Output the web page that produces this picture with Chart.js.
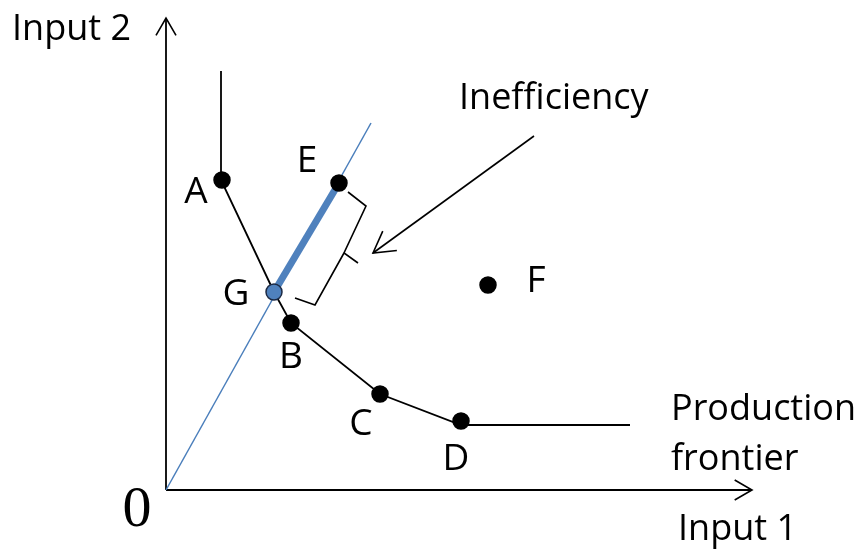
<!DOCTYPE html>
<html>
<head>
<meta charset="utf-8">
<script src="https://cdn.jsdelivr.net/npm/chart.js@4.4.1/dist/chart.umd.min.js"></script>
<style>
  body { margin: 0; background: #fff; }
  #wrap { width: 864px; height: 550px; }
</style>
</head>
<body>
<div id="wrap"><canvas id="frontierChart"></canvas></div>
<script>
// input quantities (Input 1, Input 2) of each firm
const firmNames = ['A', 'E', 'G', 'B', 'C', 'D', 'F'];
const input1 = [5.6, 17.3, 10.8, 12.5, 21.4, 29.5, 32.2];
const input2 = [31.0, 30.7, 19.8, 16.7, 9.6, 6.9, 20.5];

// production frontier (isoquant) through A, G, B, C, D
const frontierX = [5.5, 5.5, 10.8, 12.5, 21.4, 29.5, 46.4];
const frontierY = [41.9, 31.0, 19.8, 16.7, 9.6, 6.5, 6.5];

// ray from origin through G and E
const rayX = [0, 20.5];
const rayY = [0, 36.7];

// inefficiency segment G -> E
const ineffX = [10.8, 17.3];
const ineffY = [19.8, 30.7];

// brace beside the segment
const braceTopX = [18.2, 20.0, 17.8, 19.2];
const braceTopY = [29.8, 28.4, 23.7, 22.7];
const braceLowX = [17.8, 14.9, 12.9];
const braceLowY = [23.7, 18.5, 19.2];

// pointer from the "Inefficiency" label
const pointerX = [36.8, 20.7];
const pointerY = [35.4, 23.7];

// axes
const axisMaxX = 58.6;
const axisMaxY = 47.2;

const pts = (xs, ys) => xs.map((x, i) => ({ x: x, y: ys[i] }));

const font = '"Open Sans", sans-serif';

// label offsets (px) relative to each firm's dot
const labelOffsets = {
    A: [-26, 23], E: [-32, -11], G: [-38, 13], B: [0, 45],
    C: [-19, 41], D: [-5, 49], F: [48, 7]
};

const drawExtras = {
    id: 'drawExtras',
    afterDatasetsDraw(chart) {
        const ctx = chart.ctx;
        const xs = chart.scales.x, ys = chart.scales.y;
        ctx.save();

        // open arrowheads on datasets flagged with arrow
        chart.data.datasets.forEach((ds, di) => {
            if (!ds.arrow) return;
            const meta = chart.getDatasetMeta(di);
            const n = meta.data.length;
            const p1 = meta.data[n - 2], p2 = meta.data[n - 1];
            const ang = Math.atan2(p2.y - p1.y, p2.x - p1.x);
            const len = ds.arrowSize || 20, spread = Math.PI / 6;
            ctx.strokeStyle = '#000';
            ctx.lineWidth = 1.6;
            ctx.beginPath();
            ctx.moveTo(p2.x - len * Math.cos(ang - spread), p2.y - len * Math.sin(ang - spread));
            ctx.lineTo(p2.x, p2.y);
            ctx.lineTo(p2.x - len * Math.cos(ang + spread), p2.y - len * Math.sin(ang + spread));
            ctx.stroke();
        });

        // firm letters
        ctx.fillStyle = '#000';
        ctx.font = '37px ' + font;
        ctx.textAlign = 'center';
        ctx.textBaseline = 'alphabetic';
        firmNames.forEach((name, i) => {
            const off = labelOffsets[name];
            ctx.fillText(name, xs.getPixelForValue(input1[i]) + off[0], ys.getPixelForValue(input2[i]) + off[1]);
        });

        // captions
        ctx.font = '36px ' + font;
        ctx.textAlign = 'left';
        ctx.fillText('Input 2', 12, 40);
        ctx.fillText('Inefficiency', 459, 109);
        ctx.fillText('Production', 671, 420);
        ctx.fillText('frontier', 671, 470);
        ctx.fillText('Input 1', 678, 540);

        ctx.textAlign = 'center';
        ctx.font = '58px "Liberation Serif", serif';
        ctx.fillText('0', 137, 526);
        ctx.restore();
    }
};

new Chart(document.getElementById('frontierChart').getContext('2d'), {
    type: 'scatter',
    data: {
        datasets: [
            {
                label: 'Firms',
                data: pts(input1, input2),
                pointRadius: 8,
                pointHoverRadius: 8,
                pointBackgroundColor: firmNames.map(n => n === 'G' ? '#4f81bd' : '#000'),
                pointBorderColor: firmNames.map(n => n === 'G' ? '#1c2a44' : '#000'),
                pointBorderWidth: 1.5,
                showLine: false
            },
            {
                label: 'Inefficiency',
                data: pts(ineffX, ineffY),
                showLine: true, pointRadius: 0,
                borderColor: '#4f81bd', borderWidth: 7
            },
            {
                label: 'Frontier',
                data: pts(frontierX, frontierY),
                showLine: true, pointRadius: 0,
                borderColor: '#000', borderWidth: 1.8
            },
            {
                label: 'Ray',
                data: pts(rayX, rayY),
                showLine: true, pointRadius: 0,
                borderColor: '#4a7ebb', borderWidth: 1.5
            },
            {
                label: 'Brace top',
                data: pts(braceTopX, braceTopY),
                showLine: true, pointRadius: 0,
                borderColor: '#000', borderWidth: 1.6
            },
            {
                label: 'Brace low',
                data: pts(braceLowX, braceLowY),
                showLine: true, pointRadius: 0,
                borderColor: '#000', borderWidth: 1.6
            },
            {
                label: 'Pointer',
                data: pts(pointerX, pointerY),
                showLine: true, pointRadius: 0,
                borderColor: '#000', borderWidth: 1.6,
                arrow: true, arrowSize: 24
            },
            {
                label: 'Input 1 axis',
                data: [{ x: 0, y: 0 }, { x: axisMaxX, y: 0 }],
                showLine: true, pointRadius: 0,
                borderColor: '#000', borderWidth: 1.8,
                arrow: true
            },
            {
                label: 'Input 2 axis',
                data: [{ x: 0, y: 0 }, { x: 0, y: axisMaxY }],
                showLine: true, pointRadius: 0,
                borderColor: '#000', borderWidth: 1.8,
                arrow: true
            }
        ]
    },
    options: {
        responsive: true,
        maintainAspectRatio: false,
        animation: false,
        layout: { padding: 0, autoPadding: false },
        plugins: {
            legend: { display: false },
            tooltip: { enabled: false }
        },
        scales: {
            x: { type: 'linear', min: -16.6, max: 69.8, display: false },
            y: { type: 'linear', min: -6.0, max: 49.0, display: false }
        }
    },
    plugins: [drawExtras]
});
</script>
</body>
</html>
